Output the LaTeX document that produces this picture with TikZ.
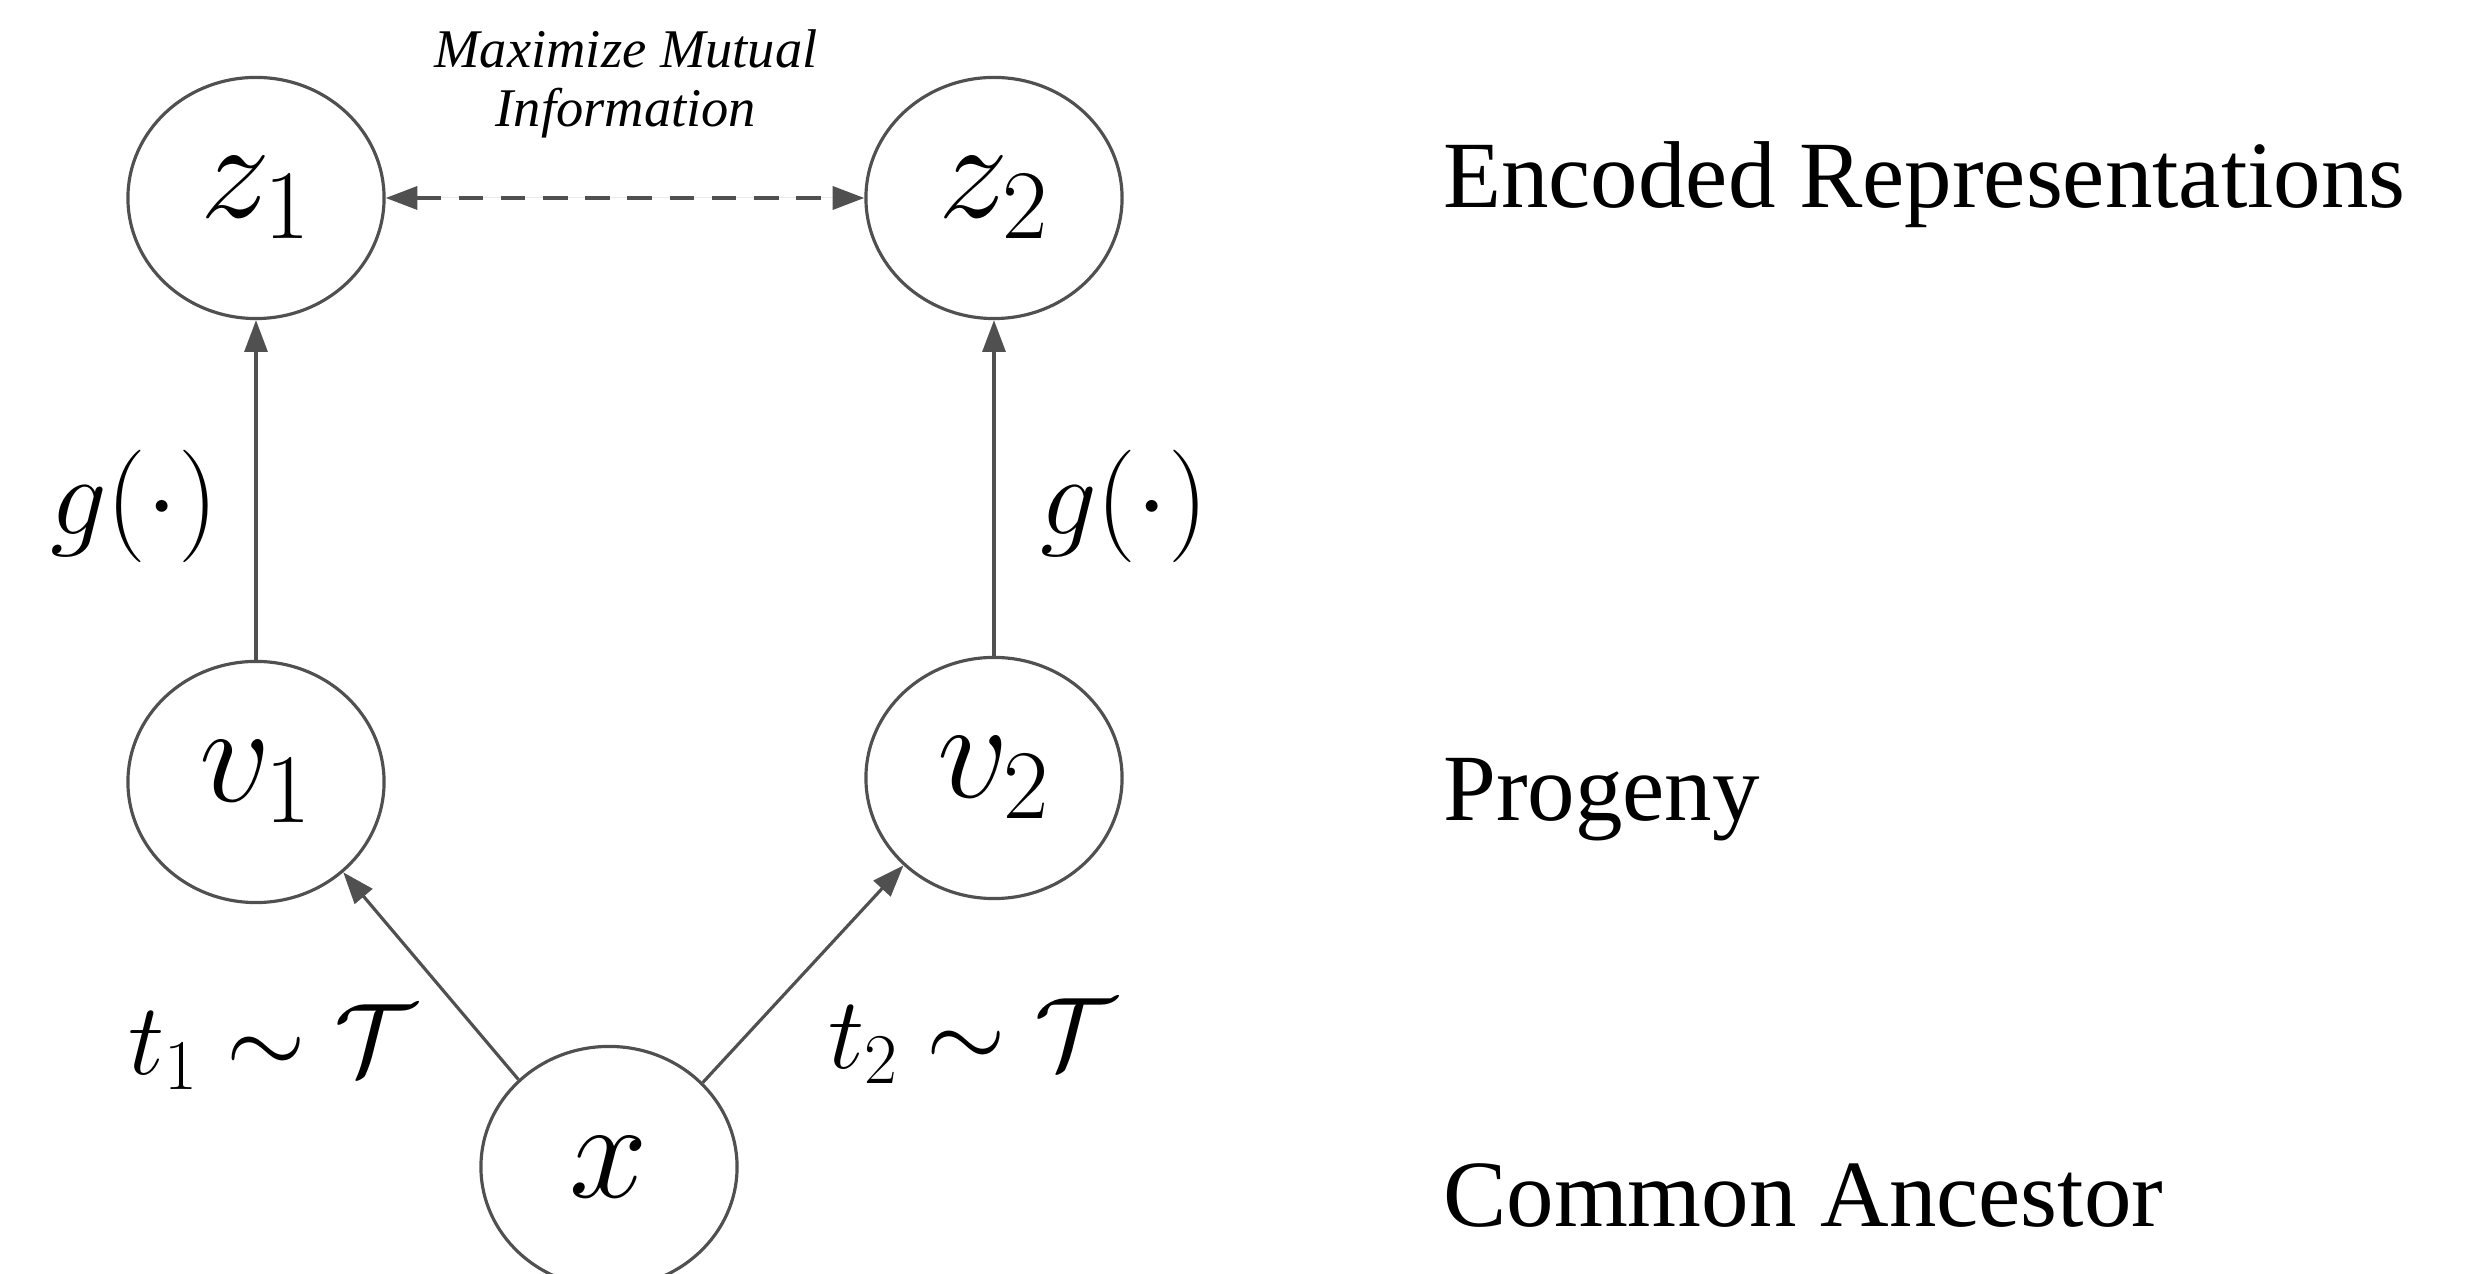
\RequirePackage{fix-cm}
\documentclass[tikz,border=0pt]{standalone}
\usepackage[no-math]{fontspec}
\setmainfont{Liberation Serif}
\usepackage{amsmath}
\usepackage{amssymb}
\usetikzlibrary{shapes.geometric,arrows.meta}

\definecolor{edgegray}{RGB}{80,80,80}
\tikzset{
  var/.style={draw=edgegray,ellipse,minimum width=2.56cm,minimum height=2.41cm,inner sep=0pt,font=\fontsize{40}{42}\selectfont},
  maplabel/.style={font=\fontsize{29}{32}\selectfont},
  levellabel/.style={anchor=base west,font=\fontsize{27}{30}\selectfont},
}

\begin{document}
\begin{tikzpicture}[x=0.01cm,y=-0.01cm,line width=0.9pt,>={Triangle[length=9pt,width=6.5pt]}]
\useasboundingbox (0,0) rectangle (2466,1274);
\clip (0,0) rectangle (2466,1274);

\node [var] (z1) at (256,198) {$z_1$};
\node [var] (z2) at (994,198) {$z_2$};
\node [var] (v1) at (256,782) {$v_1$};
\node [var] (v2) at (994,778) {$v_2$};
\node [var] (x) at (609,1167) {$x$};

\draw[<->,draw=edgegray,fill=edgegray,line width=1.1pt,dash pattern=on 7pt off 5pt] (z1) -- (z2);
\draw[->,draw=edgegray,fill=edgegray] (v1) -- (z1);
\draw[->,draw=edgegray,fill=edgegray] (v2) -- (z2);
\draw[->,draw=edgegray,fill=edgegray] (x.136) -- (v1.-46);
\draw[->,draw=edgegray,fill=edgegray] (x.42) -- (v2.-136);

\node [align=center,font=\fontsize{15.5}{17}\selectfont\itshape] (mi) at (626,84) {Maximize Mutual\\Information};
\node [maplabel,font=\fontsize{32}{34}\selectfont] (g1) at (134,506) {$g(\cdot)$};
\node [maplabel,font=\fontsize{32}{34}\selectfont] (g2) at (1124,506) {$g(\cdot)$};
\node [maplabel] (t1) at (272,1047) {$t_1\sim\mathcal{T}$};
\node [maplabel] (t2) at (972,1041) {$t_2\sim\mathcal{T}$};

\node [levellabel] (enc) at (1430,208) {Encoded Representations};
\node [levellabel] (prog) at (1430,821) {Progeny};
\node [levellabel] (anc) at (1430,1227) {Common Ancestor};

\end{tikzpicture}
\end{document}
